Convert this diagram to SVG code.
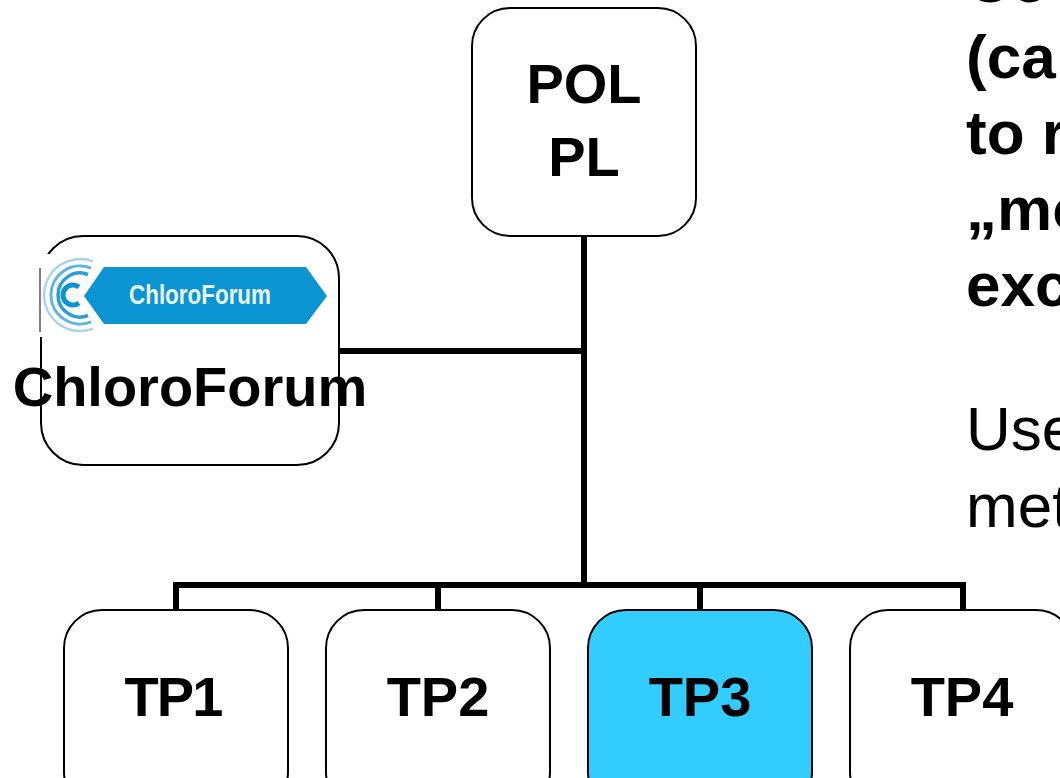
<svg xmlns="http://www.w3.org/2000/svg" width="1060" height="778" viewBox="0 0 1060 778">
<style>
.n{fill:#fff;stroke:#000;stroke-width:2}
.c{fill:none;stroke:#000;stroke-width:6}
text{font-family:"Liberation Sans",Arial,sans-serif;fill:#000}
.b{font-weight:700;font-size:56px;text-anchor:middle}
.s{font-weight:700;font-size:62px}
.r{font-size:62px}
</style>
<rect width="1060" height="778" fill="#fff"/>
<g id="connectors">
<path class="c" d="M584 236V585M340 351H584M176 609V585H963V609M438 585V609M700 585V609"/>
</g>
<g id="node-pol"><rect class="n" x="472" y="8" width="224" height="228" rx="38"/>
<text class="b" x="584" y="103">POL</text><text class="b" x="584" y="176">PL</text></g>
<g id="node-chloroforum"><rect class="n" x="41" y="236" width="298" height="229" rx="42"/>
<rect x="39" y="254" width="62" height="83" fill="#fff"/>
<path d="M40 268V332" fill="none" stroke="#000" stroke-width="1"/>
<g fill="none">
<path stroke="#a9d5ec" stroke-width="2.5" d="M93 261.4A36 36 0 1 0 93 328.6"/>
<path stroke="#5fb4e0" stroke-width="3" d="M91 268.2A29 29 0 1 0 91 321.8"/>
<path stroke="#2a9ed8" stroke-width="3.5" d="M88 274.5A22 22 0 1 0 88 315.5"/>
<path stroke="#0b94d2" stroke-width="5" d="M79 287A10 10 0 1 0 79 303"/>
</g>
<path d="M104 267H306L327 296L306 324H104L84 296Z" fill="#0b94d2"/>
<text x="200" y="304" font-size="27" font-weight="700" text-anchor="middle" style="fill:#e8f5fb" textLength="142" lengthAdjust="spacingAndGlyphs">ChloroForum</text>
<text class="b" x="190" y="406">ChloroForum</text></g>
<g id="node-tp1"><rect class="n" x="64" y="610" width="224" height="200" rx="38"/><text class="b" x="174" y="716" textLength="99">TP1</text></g>
<g id="node-tp2"><rect class="n" x="326" y="610" width="224" height="200" rx="38"/><text class="b" x="438" y="716">TP2</text></g>
<g id="node-tp3"><rect class="n" style="fill:#33ccff" x="588" y="610" width="224" height="200" rx="38"/><text class="b" x="700" y="716">TP3</text></g>
<g id="node-tp4"><rect class="n" x="850" y="610" width="224" height="200" rx="38"/><text class="b" x="962" y="716">TP4</text></g>
<g id="side-text">
<text class="s" x="966" y="2">Co</text>
<text class="s" x="966" y="78">(ca</text>
<text class="s" x="966" y="154">to r</text>
<text class="s" x="966" y="230">„mo</text>
<text class="s" x="966" y="306">exc</text>
<text class="r" x="966" y="450">Use</text>
<text class="r" x="966" y="527">met</text>
</g>
</svg>
